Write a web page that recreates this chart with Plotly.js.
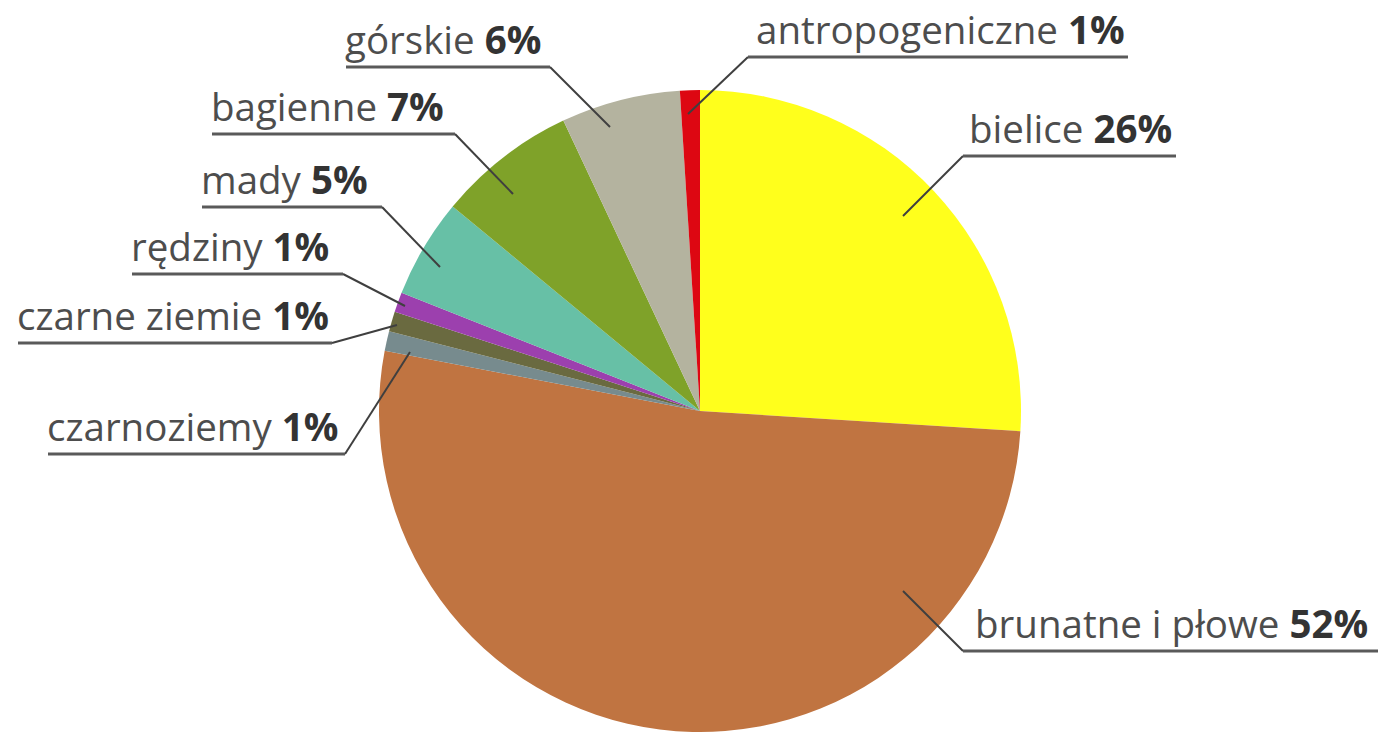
<!DOCTYPE html>
<html>
<head>
<meta charset="utf-8">
<script src="https://cdn.plot.ly/plotly-3.0.1.min.js"></script>
<style>
  html, body { margin: 0; padding: 0; background: #ffffff; }
  #chart { width: 1381px; height: 734px; }
</style>
</head>
<body>
<div id="chart"></div>
<script>
// ---- data ----
const categories = ["bielice", "brunatne i płowe", "czarnoziemy", "czarne ziemie", "rędziny", "mady", "bagienne", "górskie", "antropogeniczne"];
const values = [26, 52, 1, 1, 1, 5, 7, 6, 1];
const colors = ["#FFFF1C", "#C07441", "#778B8E", "#6A6A40", "#9C40AE", "#67C0A6", "#7FA229", "#B4B39F", "#DD0712"];

// ---- label layout (pixels): text left x, underline from x0 to x1 at y, pointer end px,py ----
const W = 1381, H = 734;
const labelLayout = [
  {tx: 970, x0: 963, x1: 1176, y: 156, px: 903, py: 216, side: "right"},   // bielice
  {tx: 976, x0: 963, x1: 1378, y: 651, px: 903, py: 591, side: "right"},   // brunatne
  {tx: 48,  x0: 48,  x1: 345,  y: 454, px: 410, py: 352, side: "left"},    // czarnoziemy
  {tx: 18,  x0: 18,  x1: 332,  y: 343, px: 397, py: 325, side: "left"},    // czarne ziemie
  {tx: 132, x0: 132, x1: 343,  y: 274, px: 405, py: 306, side: "left"},    // rędziny
  {tx: 202, x0: 202, x1: 382,  y: 207, px: 440, py: 267, side: "left"},    // mady
  {tx: 212, x0: 212, x1: 455,  y: 134, px: 513, py: 194, side: "left"},    // bagienne
  {tx: 346, x0: 346, x1: 550,  y: 67,  px: 610, py: 127, side: "left"},    // górskie
  {tx: 757, x0: 748, x1: 1128, y: 57,  px: 688, py: 114, side: "right"}    // antropogeniczne
];

const px2x = v => v / W;
const px2y = v => 1 - v / H;

const cx = 700, cy = 411, R = 321;

const annotations = [];
const shapes = [];
categories.forEach((name, i) => {
  const L = labelLayout[i];
  annotations.push({
    xref: "paper", yref: "paper",
    x: px2x(L.tx - 2), y: px2y(L.y - 1),
    xanchor: "left", yanchor: "bottom",
    showarrow: false,
    borderpad: 0,
    text: name + ' <b><span style="color:#333333">' + values[i] + '%</span></b>',
    font: {family: "'Open Sans', sans-serif", size: 38.5, color: "#4d4d4d"}
  });
  const joint = L.side === "right" ? L.x0 : L.x1;
  const far = L.side === "right" ? L.x1 : L.x0;
  shapes.push({
    type: "line", xref: "paper", yref: "paper",
    x0: px2x(L.px), y0: px2y(L.py), x1: px2x(joint), y1: px2y(L.y),
    line: {color: "#3f3f3f", width: 2}
  });
  shapes.push({
    type: "line", xref: "paper", yref: "paper",
    x0: px2x(joint), y0: px2y(L.y), x1: px2x(far), y1: px2y(L.y),
    line: {color: "#5a5a5a", width: 3}
  });
});

const trace = {
  type: "pie",
  labels: categories,
  values: values,
  sort: false,
  direction: "clockwise",
  rotation: 0,
  textinfo: "none",
  hoverinfo: "label+percent",
  marker: {colors: colors, line: {width: 0}},
  domain: {
    x: [(cx - R) / W, (cx + R) / W],
    y: [1 - (cy + R) / H, 1 - (cy - R) / H]
  },
  showlegend: false
};

const layout = {
  width: W, height: H,
  margin: {l: 0, r: 0, t: 0, b: 0},
  paper_bgcolor: "#ffffff",
  plot_bgcolor: "#ffffff",
  showlegend: false,
  annotations: annotations,
  shapes: shapes
};

Plotly.newPlot("chart", [trace], layout, {displayModeBar: false, staticPlot: true});
</script>
</body>
</html>
